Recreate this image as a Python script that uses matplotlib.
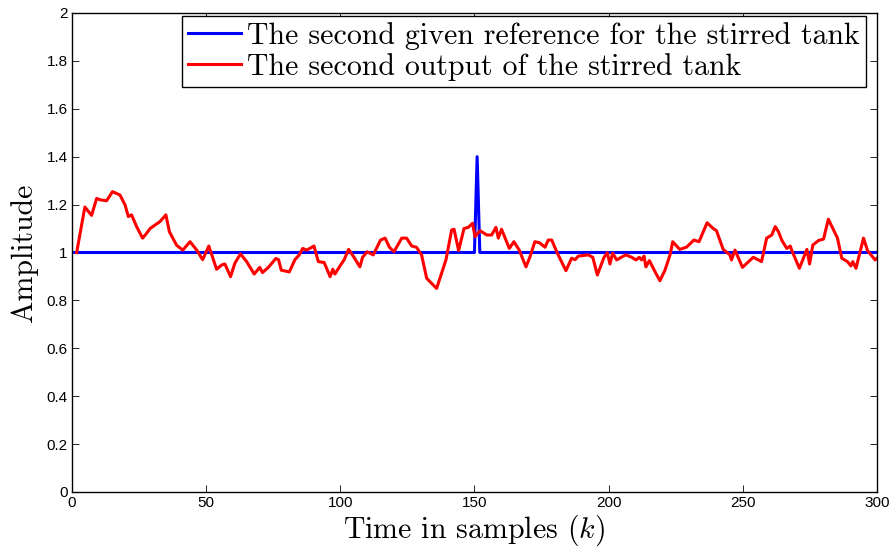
import matplotlib
matplotlib.use("Agg")
import matplotlib.pyplot as plt

params = {
    'font.family': 'Liberation Sans',
    'mathtext.fontset': 'cm',
    'xtick.labelsize': 11,
    'ytick.labelsize': 11,
    'xtick.direction': 'in',
    'ytick.direction': 'in',
    'xtick.top': True,
    'ytick.right': True,
    'axes.linewidth': 1.0,
}
plt.rcParams.update(params)

# reference signal (step values at given samples)
ref_k = [1, 150, 151, 152, 300]
ref_val = [1.0, 1.0, 1.4, 1.0, 1.0]

# output of the stirred tank
out_k = [1.75, 4.8, 7.3, 9.2, 10.4, 12.9, 15.1, 17.9, 19.8, 21, 22.2, 24.1, 26.3, 27.6,
         29.1, 32.8, 35, 36.3, 39, 41.3, 44, 46.5, 48.7, 51, 53.9, 55.8, 57, 59.1, 60.7,
         62.8, 65.1, 67.9, 70, 71, 73.2, 76, 77, 78, 81, 83.1, 84.7, 86, 87.5, 90.2, 91.8,
         94, 96.2, 97.2, 98, 99.9, 101.4, 103.1, 105.1, 107.3, 108.3, 110, 112.3, 115,
         116.7, 118.3, 120, 122.9, 124.7, 126.6, 128.4, 130.3, 132.2, 135.9, 139.4, 141.5,
         142.4, 144.1, 146.1, 147.7, 149.3, 150.2, 152.1, 154.6, 156.4, 158, 158.9, 160.1,
         163, 164.7, 166.7, 169.2, 170.7, 172.5, 174.2, 176.3, 177.5, 178.8, 180.9, 184.1,
         186.2, 187.5, 188.7, 192.4, 194.1, 195.8, 198.3, 199.5, 200.5, 201.5, 203, 205.5,
         206.5, 208.6, 210.2, 211.4, 212.3, 213.2, 213.9, 215.2, 217.3, 219.1, 221, 222.9,
         223.9, 226.5, 229, 231.8, 233.7, 236.7, 239, 240.2, 242.7, 245.2, 245.8, 247.1,
         249.9, 253.9, 257, 258.9, 260.8, 262.1, 263.3, 264.6, 266.4, 267.7, 268.3, 271.1,
         273.9, 274.9, 276.1, 278.2, 280.1, 281.9, 285.3, 286.9, 289, 290.3, 291, 292.2,
         295, 296.5, 297.5, 299.3, 300]
out_val = [1.0, 1.19, 1.155, 1.226, 1.22, 1.216, 1.254, 1.24, 1.198, 1.15, 1.157, 1.108, 1.06,
           1.077, 1.10, 1.129, 1.157, 1.087, 1.03, 1.01, 1.045, 1.01, 0.97, 1.027, 0.93,
           0.948, 0.952, 0.899, 0.955, 0.994, 0.962, 0.91, 0.938, 0.916, 0.938, 0.975, 0.97,
           0.926, 0.919, 0.97, 0.99, 1.017, 1.01, 1.027, 0.962, 0.958, 0.899, 0.93, 0.91,
           0.944, 0.969, 1.013, 0.98, 0.94, 0.98, 1.003, 0.99, 1.052, 1.06, 1.022, 1.003,
           1.06, 1.06, 1.027, 1.022, 0.99, 0.892, 0.85, 0.97, 1.094, 1.097, 1.008, 1.10,
           1.105, 1.122, 1.066, 1.091, 1.073, 1.073, 1.105, 1.06, 1.097, 1.017, 1.045, 1.01,
           0.94, 0.982, 1.045, 1.041, 1.022, 1.052, 1.052, 0.997, 0.924, 0.976, 0.97, 0.985,
           0.99, 0.98, 0.906, 0.98, 0.999, 0.952, 0.997, 0.969, 0.985, 0.99, 0.98, 0.969,
           0.98, 0.969, 0.985, 0.94, 0.966, 0.92, 0.882, 0.926, 0.99, 1.045, 1.013, 1.022,
           1.052, 1.045, 1.124, 1.10, 1.091, 1.013, 0.99, 0.969, 1.01, 0.938, 0.98, 0.962,
           1.06, 1.073, 1.108, 1.087, 1.05, 1.017, 1.027, 1.008, 0.934, 1.013, 0.952, 1.031,
           1.05, 1.056, 1.139, 1.06, 0.976, 0.962, 0.944, 0.962, 0.934, 1.06, 1.008, 0.994,
           0.969, 0.976]

fig = plt.figure(figsize=(8.93, 5.48), dpi=100)
ax = fig.add_axes([0.0806, 0.1022, 0.9014, 0.8741])

ax.plot(ref_k, ref_val, color=(0, 0, 1), linewidth=2.2,
        label="The second given reference for the stirred tank")
ax.plot(out_k, out_val, color=(1, 0, 0), linewidth=2.2,
        label="The second output of the stirred tank")

ax.set_xlim(0, 300)
ax.set_ylim(0, 2)
ax.set_xticks([0, 50, 100, 150, 200, 250, 300])
ax.set_yticks([0, 0.2, 0.4, 0.6, 0.8, 1, 1.2, 1.4, 1.6, 1.8, 2])
ax.set_yticklabels(["0", "0.2", "0.4", "0.6", "0.8", "1", "1.2", "1.4", "1.6", "1.8", "2"])
ax.tick_params(length=5, width=0.6, pad=3)

ax.set_xlabel(r"Time in samples $(k)$", family="cmr10", fontsize=21.5, labelpad=2)
ax.set_ylabel("Amplitude", family="cmr10", fontsize=21.5, labelpad=6)

# legend box: right edge ~866 px, top ~17 px in the reference
leg = ax.legend(loc="upper right", bbox_to_anchor=(866 / 893, 1 - 16 / 548),
                bbox_transform=fig.transFigure, borderaxespad=0,
                prop={'family': 'cmr10', 'size': 21.5},
                fancybox=False, edgecolor='black', framealpha=1,
                handlelength=1.8, handletextpad=0.2,
                borderpad=0.2, labelspacing=0.1)
leg.get_frame().set_linewidth(1.0)

fig.savefig("out.png", dpi=100)
